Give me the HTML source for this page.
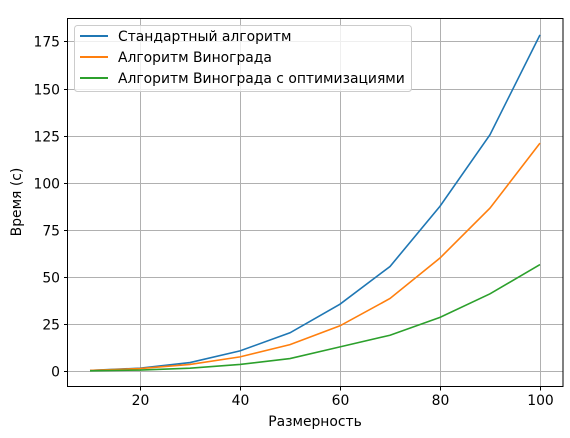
<!DOCTYPE html>
<html><head><meta charset="utf-8"><style>
body{margin:0;background:#fff}
text{font-family:"DejaVu Sans","Liberation Sans",sans-serif;font-size:13.9px;fill:#000}
</style></head><body>
<svg id="chart" width="570" height="433" xmlns="http://www.w3.org/2000/svg">
<g id="grid"></g>
<g id="lines"></g>
<rect x="67.5" y="18.5" width="495.5" height="368" fill="none" stroke="#000" stroke-width="1"/>
<g id="ticks"></g>
<text x="315" y="426" text-anchor="middle">Размерность</text>
<text transform="translate(21,202) rotate(-90)" text-anchor="middle">Время (с)</text>
<g>
<rect x="74.5" y="25.5" width="337" height="66" rx="3" fill="#fff" fill-opacity="0.8" stroke="#ccc"/>
<line x1="80" y1="36" x2="108" y2="36" stroke="#1f77b4" stroke-width="2"/>
<text x="118" y="41">Стандартный алгоритм</text>
<line x1="80" y1="57" x2="108" y2="57" stroke="#ff7f0e" stroke-width="2"/>
<text x="118" y="62">Алгоритм Винограда</text>
<line x1="80" y1="78" x2="108" y2="78" stroke="#2ca02c" stroke-width="2"/>
<text x="118" y="83">Алгоритм Винограда с оптимизациями</text>
</g>
</svg>
<script>
const sizes=[10,20,30,40,50,60,70,80,90,100];
const standard=[0.3,1.5,4.5,10.7,20.3,35.5,55.5,87.5,125.5,178.5];
const winograd=[0.3,1.3,3.5,7.5,14,24,38.5,60,86.5,121];
const winogradOpt=[0.1,0.5,1.5,3.5,6.6,12.8,19,28.5,41,56.5];
const xTicks=[20,40,60,80,100];
const yTicks=[0,25,50,75,100,125,150,175];
const NS="http://www.w3.org/2000/svg";
const X=v=>90+(v-10)*5;
const Y=v=>371-v*1.883;
const grid=document.getElementById('grid'),ticks=document.getElementById('ticks'),lines=document.getElementById('lines');
function mk(t,a,p){const e=document.createElementNS(NS,t);for(const k in a)e.setAttribute(k,a[k]);p.appendChild(e);return e;}
xTicks.forEach(v=>{const x=Math.round(X(v))+0.5;
const g=mk('line',{x1:x,x2:x,y1:18,y2:387,stroke:'#b0b0b0','stroke-width':1},grid);


const t=mk('line',{x1:x,x2:x,y1:387,y2:390.5,stroke:'#000'},ticks);


const l=mk('text',{x:x,y:405,'text-anchor':'middle'},ticks);l.textContent=v;

});
yTicks.forEach(v=>{const y=Math.round(Y(v))+0.5;
const g=mk('line',{x1:67,x2:563,y1:y,y2:y,stroke:'#b0b0b0','stroke-width':1},grid);


const t=mk('line',{x1:64,x2:67.5,y1:y,y2:y,stroke:'#000'},ticks);


const l=mk('text',{x:60,y:y+5,'text-anchor':'end'},ticks);l.textContent=v;

});
[[standard,'#1f77b4','standard-line'],[winograd,'#ff7f0e','winograd-line'],[winogradOpt,'#2ca02c','winograd-opt-line']].forEach(([d,c,n])=>{
const p=mk('polyline',{points:d.map((v,i)=>X(sizes[i])+','+Y(v)).join(' '),fill:'none',stroke:c,'stroke-width':1.6},lines);

});
</script>
</body></html>
